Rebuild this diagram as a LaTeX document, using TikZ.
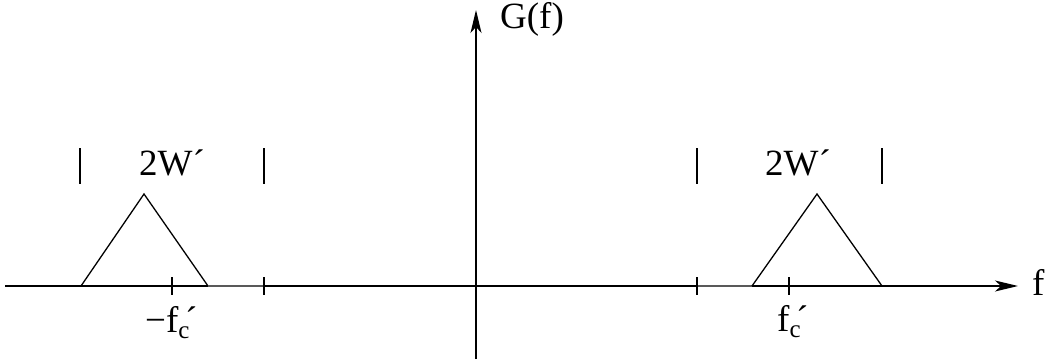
\documentclass[tikz,border=0pt]{standalone}
\usepackage{fontspec}
\setmainfont{Liberation Serif}
\usetikzlibrary{arrows.meta}

\newcommand{\fcp}{f\raisebox{-0.18em}{\fontsize{25}{28}\selectfont c}\kern-0.12em´}

\begin{document}
\begin{tikzpicture}[x=1pt, y=-1pt,
        font=\fontsize{37}{42}\selectfont,
        ax/.style={line width=1.3pt, -{Stealth[length=23pt, width=11pt, inset=6pt]}},
        ln/.style={line width=1.3pt},
        band/.style={line width=2.2pt, black!65},
        lbl/.style={inner sep=0pt, anchor=base west}
    ]
    \useasboundingbox (0,0) rectangle (1053,364);
    % axes
    \coordinate (xl) at (5,286);
    \coordinate (xr) at (1018,286);
    \coordinate (yb) at (476,359);
    \coordinate (yt) at (476,10);
    \draw[ax] (xl) -- (xr);
    \draw[ax] (yb) -- (yt);
    \node[lbl] (gf) at (500,28) {G(f)};
    \node[lbl] (f) at (1032,295) {f};
    % left band
    \coordinate (la) at (81,286);
    \coordinate (lp) at (144,194);
    \coordinate (lb) at (208,286);
    \coordinate (le) at (264,286);
    \draw[ln] (la) -- (lp) -- (lb);
    \draw[band] (lb) -- (le);
    \draw[ln] (172,277) -- (172,295);
    \draw[ln] (264,277) -- (264,295);
    \draw[ln] (80,148) -- (80,184);
    \draw[ln] (264,148) -- (264,184);
    \node[lbl] (lw) at (139,175) {2W´};
    \node[lbl] (lfc) at (145,332) {−\fcp};
    % right band
    \coordinate (rs) at (697,286);
    \coordinate (ra) at (752,286);
    \coordinate (rp) at (817,194);
    \coordinate (rb) at (882,286);
    \draw[band] (rs) -- (ra);
    \draw[ln] (ra) -- (rp) -- (rb);
    \draw[ln] (697,277) -- (697,295);
    \draw[ln] (789,277) -- (789,295);
    \draw[ln] (697,148) -- (697,184);
    \draw[ln] (882,148) -- (882,184);
    \node[lbl] (rw) at (765,175) {2W´};
    \node[lbl] (rfc) at (777,331) {\fcp};
\end{tikzpicture}
\end{document}
